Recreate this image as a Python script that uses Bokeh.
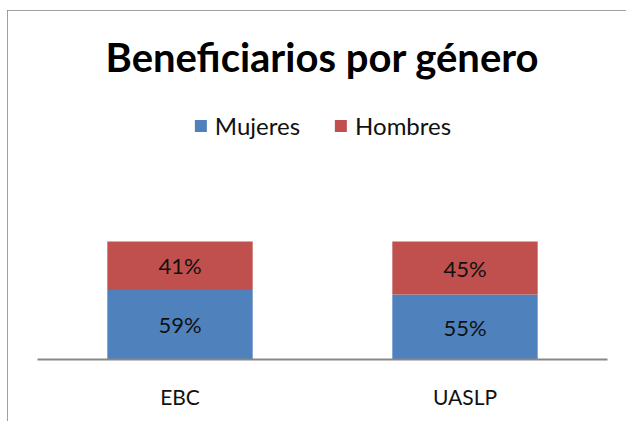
from bokeh.plotting import figure
from bokeh.models import ColumnDataSource, Legend, LegendItem, LabelSet, InlineStyleSheet
from bokeh.core.properties import value
from bokeh.embed import file_html
from bokeh.resources import INLINE

categories = ["EBC", "UASLP"]
mujeres = [0.59, 0.55]
hombres = [0.41, 0.45]
series = ["Mujeres", "Hombres"]
colors = ["#4F81BD", "#C0504D"]

FONT = "Lato"

src = ColumnDataSource(dict(cat=categories, Mujeres=mujeres, Hombres=hombres))

p = figure(x_range=categories, y_range=(0, 2.28), width=619, height=411,
           output_backend="svg", toolbar_location=None,
           min_border_left=30, min_border_right=19, min_border_bottom=62,
           min_border_top=80, margin=(10, 0, 0, 7))

r = p.vbar_stack(series, x="cat", width=0.51, color=colors, source=src, line_color=None)

# data labels
lab_src = ColumnDataSource(dict(
    cat=categories * 2,
    y=[m / 2 for m in mujeres] + [m + h / 2 for m, h in zip(mujeres, hombres)],
    txt=[f"{round(v*100)}%" for v in mujeres] + [f"{round(v*100)}%" for v in hombres],
))
p.add_layout(LabelSet(x="cat", y="y", text="txt", source=lab_src, text_align="center",
                      text_baseline="middle", text_font=value(FONT),
                      text_font_size=value("22px"), text_color="#111111"))

legend = Legend(items=[LegendItem(label=s, renderers=[rr]) for s, rr in zip(series, r)],
                orientation="horizontal", location="top_center", label_text_font=FONT,
                label_text_font_size="24px", label_text_color="#111111",
                glyph_width=15, glyph_height=15, label_standoff=7, spacing=33,
                border_line_color=None, background_fill_alpha=0, padding=0, margin=21)
p.add_layout(legend)

p.title.text = "Beneficiarios por género"
p.title.align = "center"
p.title.text_font = FONT
p.title.text_font_size = "40px"
p.title.text_font_style = "bold"
p.title.text_color = "#000000"
p.title.standoff = 19

p.yaxis.visible = False
p.xaxis.axis_line_color = "#888888"
p.xaxis.axis_line_width = 2
p.xaxis.major_tick_line_color = None
p.xaxis.minor_tick_line_color = None
p.xaxis.major_label_text_font = FONT
p.xaxis.major_label_text_font_size = "21px"
p.xaxis.major_label_text_color = "#111111"
p.xaxis.major_label_standoff = 18
p.xgrid.grid_line_color = None
p.ygrid.grid_line_color = None
p.outline_line_color = None
p.x_range.range_padding = 0
p.stylesheets = [InlineStyleSheet(css=":host { box-shadow: inset 2px 2px 0 0 #808080; }")]

open("out.html", "w").write(file_html(p, INLINE))
